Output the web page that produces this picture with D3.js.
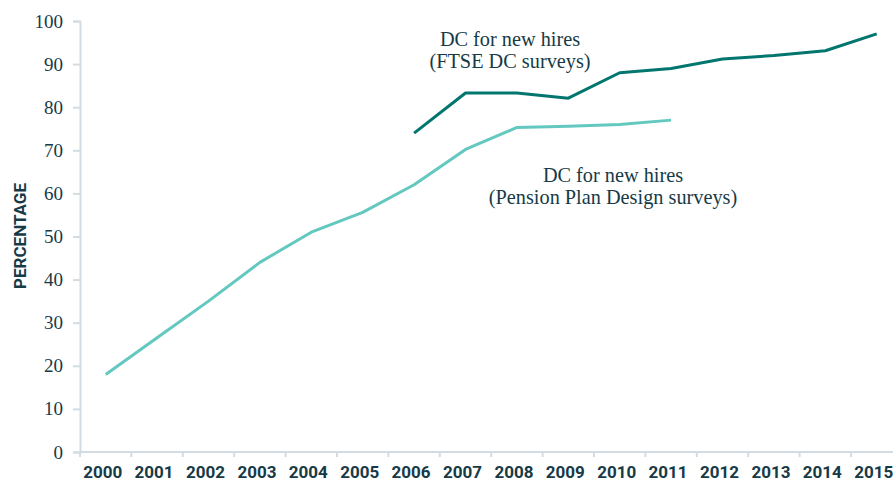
<!DOCTYPE html>
<html>
<head>
<meta charset="utf-8">
<script src="https://cdn.jsdelivr.net/npm/d3@7"></script>
<style>
  html, body { margin: 0; padding: 0; background: #ffffff; }
  svg { display: block; }
</style>
</head>
<body>
<svg id="chart" width="893" height="482"></svg>
<script>
// Share of plans offering DC to new hires, by year
const years = ["2000","2001","2002","2003","2004","2005","2006","2007",
               "2008","2009","2010","2011","2012","2013","2014","2015"];
const pensionPlanYears  = ["2000","2001","2002","2003","2004","2005","2006","2007","2008","2009","2010","2011"];
const pensionPlanValues = [18, 26.5, 35, 44, 51, 55.6, 62, 70.2, 75.3, 75.6, 76, 77];
const ftseYears  = ["2006","2007","2008","2009","2010","2011","2012","2013","2014","2015"];
const ftseValues = [74, 83.3, 83.3, 82.1, 88, 89, 91.2, 92, 93.1, 97];
const yTicks = [0, 10, 20, 30, 40, 50, 60, 70, 80, 90, 100];

const axisColor = "#d3dce2";
const textColor = "#173a47";
const darkTeal = "#00766f";
const lightTeal = "#63c8bf";

const svg = d3.select("#chart");
const plotLeft = 80, plotBottom = 452, plotTop = 21, bandStep = 51.4;

const x = d3.scaleBand().domain(years).range([plotLeft, plotLeft + bandStep * years.length]).padding(0);
const y = d3.scaleLinear().domain([0, 100]).range([plotBottom, plotTop]);

// y axis
const yAxis = d3.axisLeft(y).tickValues(yTicks).tickSize(7).tickPadding(10);
const gy = svg.append("g").attr("transform", `translate(${plotLeft},0)`).call(yAxis);
gy.select(".domain").attr("stroke", axisColor).attr("stroke-width", 2);
gy.selectAll(".tick line").attr("stroke", axisColor).attr("stroke-width", 2);
gy.selectAll(".tick text")
  .attr("fill", textColor)
  .style("font-family", "'Liberation Serif', 'DejaVu Serif', serif")
  .style("font-size", "19px");

// x axis: ticks at category boundaries, labels near the middle of each band
const gx = svg.append("g").attr("transform", `translate(0,${plotBottom})`);
gx.append("line")
  .attr("x1", plotLeft).attr("x2", x.range()[1])
  .attr("stroke", axisColor).attr("stroke-width", 2);
gx.selectAll("line.tick")
  .data(years)
  .join("line")
  .attr("class", "tick")
  .attr("x1", d => x(d)).attr("x2", d => x(d))
  .attr("y1", 0).attr("y2", 5)
  .attr("stroke", axisColor).attr("stroke-width", 2);
gx.selectAll("text")
  .data(years)
  .join("text")
  .attr("x", d => x(d) + x.bandwidth() / 2 - 3)
  .attr("y", 25.5)
  .attr("text-anchor", "middle")
  .attr("fill", textColor)
  .style("font-family", "Roboto, 'Open Sans', sans-serif")
  .style("font-weight", 700)
  .style("font-size", "17px")
  .text(d => d);

// y axis title
svg.append("text")
  .attr("transform", `translate(25.5,236) rotate(-90)`)
  .attr("text-anchor", "middle")
  .attr("fill", textColor)
  .style("font-family", "Roboto, 'Open Sans', sans-serif")
  .style("font-weight", 700)
  .style("font-size", "17px")
  .text("PERCENTAGE");

// series lines
const line = d3.line()
  .x(d => x(d[0]) + x.bandwidth() / 2)
  .y(d => y(d[1]));

svg.append("path")
  .datum(d3.zip(pensionPlanYears, pensionPlanValues))
  .attr("fill", "none")
  .attr("stroke", lightTeal)
  .attr("stroke-width", 3)
  .attr("stroke-linejoin", "round")
  .attr("d", line);

svg.append("path")
  .datum(d3.zip(ftseYears, ftseValues))
  .attr("fill", "none")
  .attr("stroke", darkTeal)
  .attr("stroke-width", 3)
  .attr("stroke-linejoin", "round")
  .attr("d", line);

// series labels
const labels = [
  { lines: ["DC for new hires", "(FTSE DC surveys)"], cx: 510, y0: 46 },
  { lines: ["DC for new hires", "(Pension Plan Design surveys)"], cx: 613, y0: 181.5 }
];
labels.forEach(l => {
  const t = svg.append("text")
    .attr("text-anchor", "middle")
    .attr("fill", textColor)
    .style("font-family", "'Liberation Serif', 'DejaVu Serif', serif")
    .style("font-size", "20.3px");
  l.lines.forEach((s, i) => {
    t.append("tspan").attr("x", l.cx).attr("y", l.y0 + i * 22).text(s);
  });
});
</script>
</body>
</html>
